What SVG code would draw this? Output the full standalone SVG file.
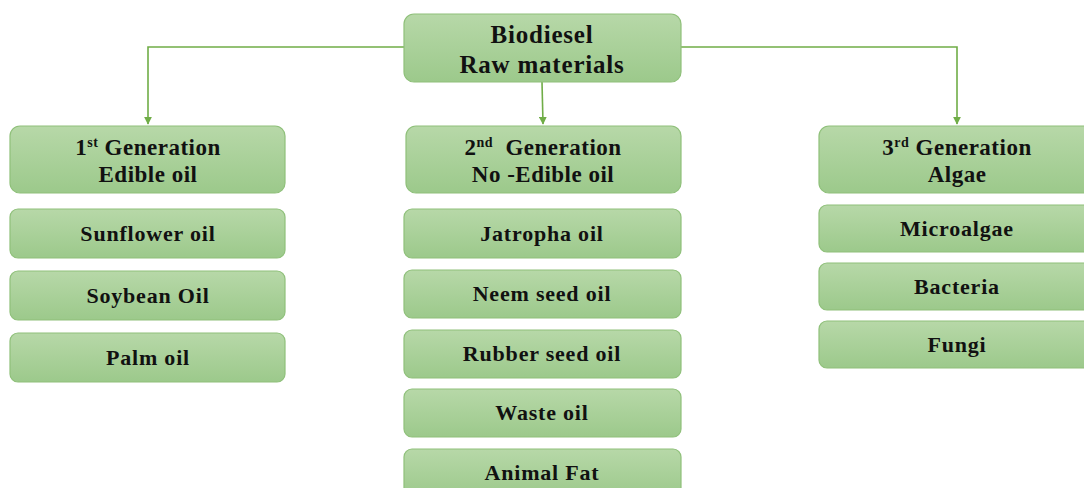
<svg xmlns="http://www.w3.org/2000/svg" width="1084" height="488" viewBox="0 0 1084 488">
<defs>
<linearGradient id="g" x1="0" y1="0" x2="0" y2="1">
<stop offset="0" stop-color="#b7d8a8"/>
<stop offset="1" stop-color="#9cc98b"/>
</linearGradient>
<marker id="arr" viewBox="0 0 10 10" refX="9" refY="5" markerWidth="5" markerHeight="5" orient="auto">
<path d="M0,0 L10,5 L0,10 z" fill="#70ad47"/>
</marker>
<style>
.box{fill:url(#g);stroke:#8fc07a;stroke-width:1.2}
.t{font-family:"Liberation Serif","DejaVu Serif",serif;font-weight:bold;fill:#111;text-anchor:middle}
.h{font-size:23px;letter-spacing:0.5px}
.i{font-size:22px;letter-spacing:0.8px}
.r{font-size:25px;letter-spacing:0.8px}
.c{fill:none;stroke:#70ad47;stroke-width:1.6}
</style>
</defs>
<rect width="1084" height="488" fill="#fff"/>
<g id="connectors">
<path class="c" d="M404,47 H148 V124" marker-end="url(#arr)"/>
<path class="c" d="M681,47 H957 V124" marker-end="url(#arr)"/>
<path class="c" d="M542,82 L543,124" marker-end="url(#arr)"/>
</g>
<g id="root"><rect class="box" x="404" y="14" width="277" height="68" rx="10"/>
<text class="t r" x="542" y="43">Biodiesel</text><text class="t r" x="542" y="73">Raw materials</text></g>
<g id="gen1"><rect class="box" x="10" y="126" width="275" height="67" rx="10"/>
<text class="t h" x="148" y="155">1<tspan font-size="14" dy="-8">st</tspan><tspan dy="8"> Generation</tspan></text><text class="t h" x="148" y="182">Edible oil</text></g>
<g id="sunflower"><rect class="box" x="10" y="209" width="275" height="49" rx="8"/><text class="t i" x="148" y="241">Sunflower oil</text></g>
<g id="soybean"><rect class="box" x="10" y="271" width="275" height="49" rx="8"/><text class="t i" x="148" y="303">Soybean Oil</text></g>
<g id="palm"><rect class="box" x="10" y="333" width="275" height="49" rx="8"/><text class="t i" x="148" y="365">Palm oil</text></g>
<g id="gen2"><rect class="box" x="406" y="126" width="275" height="67" rx="10"/>
<text class="t h" x="543" y="155" xml:space="preserve">2<tspan font-size="14" dy="-8">nd</tspan><tspan dy="8">  Generation</tspan></text><text class="t h" x="543" y="182">No -Edible oil</text></g>
<g id="jatropha"><rect class="box" x="404" y="209" width="277" height="49" rx="8"/><text class="t i" x="542" y="241">Jatropha oil</text></g>
<g id="neem"><rect class="box" x="404" y="270" width="277" height="48" rx="8"/><text class="t i" x="542" y="301">Neem seed oil</text></g>
<g id="rubber"><rect class="box" x="404" y="330" width="277" height="48" rx="8"/><text class="t i" x="542" y="361">Rubber seed oil</text></g>
<g id="waste"><rect class="box" x="404" y="389" width="277" height="48" rx="8"/><text class="t i" x="542" y="420">Waste oil</text></g>
<g id="animal"><rect class="box" x="404" y="449" width="277" height="48" rx="8"/><text class="t i" x="542" y="480">Animal Fat</text></g>
<g id="gen3"><rect class="box" x="819" y="126" width="275" height="67" rx="10"/>
<text class="t h" x="957" y="155">3<tspan font-size="14" dy="-8">rd</tspan><tspan dy="8"> Generation</tspan></text><text class="t h" x="957" y="182">Algae</text></g>
<g id="microalgae"><rect class="box" x="819" y="205" width="275" height="47" rx="8"/><text class="t i" x="957" y="236">Microalgae</text></g>
<g id="bacteria"><rect class="box" x="819" y="263" width="275" height="47" rx="8"/><text class="t i" x="957" y="294">Bacteria</text></g>
<g id="fungi"><rect class="box" x="819" y="321" width="275" height="47" rx="8"/><text class="t i" x="957" y="352">Fungi</text></g>
</svg>
